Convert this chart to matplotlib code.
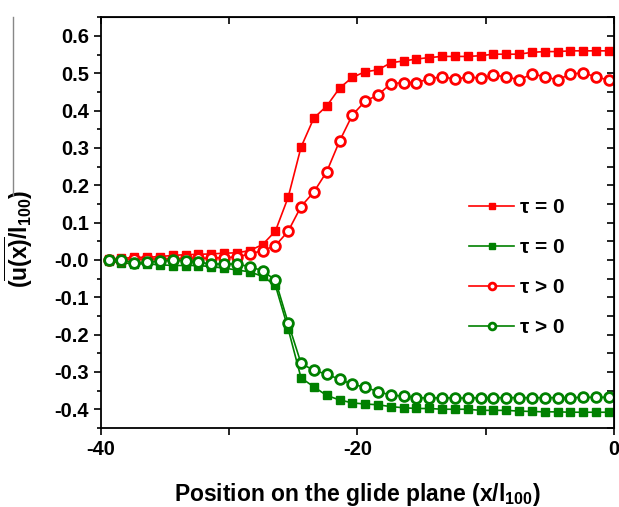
import numpy as np
import matplotlib
matplotlib.use("Agg")
import matplotlib.pyplot as plt
from matplotlib.lines import Line2D

plt.rcParams["font.family"] = ["Liberation Sans", "DejaVu Sans"]
plt.rcParams["font.weight"] = "bold"
plt.rcParams["axes.unicode_minus"] = False
plt.rcParams["mathtext.fontset"] = "custom"
plt.rcParams["mathtext.rm"] = "Liberation Sans:bold"
plt.rcParams["mathtext.it"] = "Liberation Sans:bold"
plt.rcParams["mathtext.bf"] = "Liberation Sans:bold"

# positions along the glide plane (40 sites)
x_pos = np.arange(40) - 39.4

# tau = 0, red
red_sq = [0.003, 0.004, 0.007, 0.007, 0.009, 0.012, 0.014, 0.015, 0.016, 0.018,
          0.019, 0.025, 0.041, 0.077, 0.168, 0.302, 0.380, 0.412, 0.460, 0.489,
          0.504, 0.509, 0.528, 0.533, 0.538, 0.542, 0.545, 0.545, 0.545, 0.547,
          0.551, 0.551, 0.551, 0.556, 0.558, 0.558, 0.560, 0.560, 0.560, 0.560]
# tau = 0, green
green_sq = [-0.003, -0.008, -0.010, -0.011, -0.013, -0.015, -0.015, -0.015, -0.018, -0.022,
            -0.027, -0.032, -0.044, -0.068, -0.185, -0.316, -0.340, -0.363, -0.375, -0.383,
            -0.386, -0.388, -0.393, -0.396, -0.398, -0.398, -0.400, -0.400, -0.400, -0.403,
            -0.403, -0.403, -0.405, -0.406, -0.407, -0.407, -0.408, -0.408, -0.408, -0.408]
# tau > 0, red
red_ci = [0.001, 0.001, 0.002, 0.002, 0.003, 0.003, 0.004, 0.004, 0.005, 0.006,
          0.008, 0.016, 0.025, 0.038, 0.077, 0.143, 0.182, 0.236, 0.318, 0.388,
          0.425, 0.442, 0.472, 0.475, 0.475, 0.485, 0.491, 0.484, 0.490, 0.487,
          0.494, 0.491, 0.482, 0.498, 0.491, 0.482, 0.498, 0.501, 0.490, 0.482]
# tau > 0, green
green_ci = [0.000, 0.000, -0.008, -0.006, -0.004, 0.000, -0.003, -0.006, -0.011, -0.011,
            -0.011, -0.018, -0.029, -0.054, -0.169, -0.277, -0.296, -0.306, -0.320, -0.333,
            -0.341, -0.353, -0.362, -0.365, -0.369, -0.370, -0.369, -0.370, -0.370, -0.369,
            -0.369, -0.369, -0.369, -0.369, -0.369, -0.369, -0.369, -0.368, -0.368, -0.368]

series = [
    (red_sq, "#ff0000", "s", "\u03c4 = 0"),
    (green_sq, "#008000", "s", "\u03c4 = 0"),
    (red_ci, "#ff0000", "o", "\u03c4 > 0"),
    (green_ci, "#008000", "o", "\u03c4 > 0"),
]

fig = plt.figure(figsize=(6.19, 5.07), dpi=100)
ax = fig.add_axes([0.163, 0.156, 0.829, 0.810])

for vals, col, mk, lab in series:
    if mk == "s":
        ax.plot(x_pos, vals, "-", color=col, lw=1.2, marker="s", ms=6.3,
                mfc=col, mec=col, label=lab)
    else:
        ax.plot(x_pos, vals, "-", color=col, lw=1.2, marker="o", ms=7,
                mfc="white", mec=col, mew=2.0, label=lab)

ax.set_xlim(-40, 0)
ax.set_ylim(-0.45, 0.65)
ax.set_xticks([-40, -20, 0])
ax.set_xticks([-30, -10], minor=True)
yt = np.round(np.arange(-0.4, 0.61, 0.1), 1)
ax.set_yticks(yt)
ax.set_yticklabels([f"{v:.1f}" for v in yt])
ax.set_yticks(np.arange(-0.45, 0.651, 0.1), minor=True)
ax.tick_params(axis="both", which="major", direction="out", length=5,
               width=1.2, labelsize=14.5)
ax.tick_params(axis="x", which="minor", direction="out", length=5, width=1.2)
ax.tick_params(axis="y", which="minor", direction="out", length=3, width=1.2)
for sp in ax.spines.values():
    sp.set_linewidth(1.3)

# top and right axes: inward ticks, no labels
top = ax.secondary_xaxis("top")
top.set_xticks([-40, -30, -20, -10, 0])
top.tick_params(direction="in", length=5, width=1.2, labeltop=False)
right = ax.secondary_yaxis("right")
right.set_yticks(np.arange(-0.45, 0.651, 0.05))
right.tick_params(direction="in", length=5, width=1.2, labelright=False)

ax.set_xlabel("Position on the glide plane (x/l$_{100}$)", fontsize=16.5,
              fontweight="bold")
ax.xaxis.set_label_coords(0.5, -0.13)
ax.set_ylabel(r"($\overline{u(x)}$/l$_{100}$)", fontsize=16.5,
              fontweight="bold")
ax.yaxis.set_label_coords(-0.128, 0.46)

fig.add_artist(Line2D([0.021, 0.021], [1 - 17 / 507, 1 - 195 / 507],
                      transform=fig.transFigure, color="#888888", lw=1))

ax.legend(loc="center left", bbox_to_anchor=(0.68, 0.39), frameon=False,
          fontsize=15, handlelength=2.2, labelspacing=1.0, markerscale=0.7,
          handletextpad=0.25)

fig.savefig("out.png", dpi=100)
